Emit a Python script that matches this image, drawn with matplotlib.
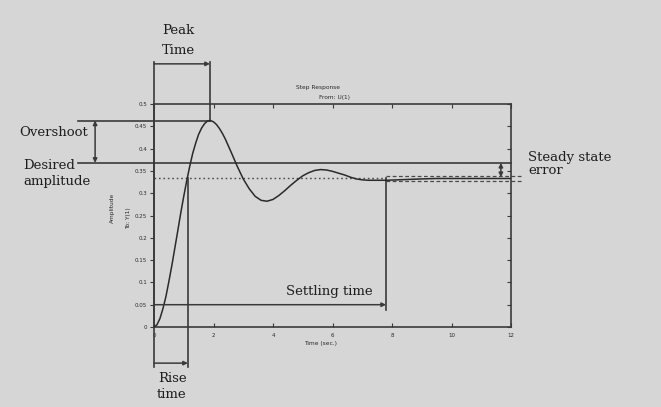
import matplotlib
matplotlib.use("Agg")
import matplotlib.pyplot as plt

# Step response samples (time in seconds, amplitude)
time = [0.0, 0.1, 0.2, 0.3, 0.4, 0.5, 0.6, 0.7, 0.8, 0.9, 1.0, 1.1, 1.2, 1.3,
        1.4, 1.5, 1.6, 1.7, 1.8, 1.9, 2.0, 2.1, 2.2, 2.3, 2.4, 2.6,
        2.8, 3.0, 3.2, 3.4, 3.6, 3.8, 4.0, 4.2, 4.4, 4.6, 4.8, 5.0, 5.2, 5.4,
        5.6, 5.8, 6.0, 6.2, 6.4, 6.6, 6.8, 7.0, 7.2, 7.4, 7.6, 7.8, 8.2, 8.6,
        9.0, 9.5, 10.0, 10.5, 11.0, 11.5, 12.0]
response = [0.0, 0.005, 0.019, 0.041, 0.068, 0.102, 0.138, 0.177, 0.216, 0.256,
            0.293, 0.328, 0.360, 0.389, 0.412, 0.432, 0.446, 0.456, 0.462,
            0.463, 0.460, 0.454, 0.445, 0.434, 0.421, 0.391, 0.360, 0.332,
            0.310, 0.293, 0.284, 0.282, 0.286, 0.295, 0.306, 0.318, 0.329,
            0.339, 0.346, 0.351, 0.353, 0.352, 0.349, 0.345, 0.341, 0.336,
            0.332, 0.330, 0.329, 0.329, 0.329, 0.329, 0.330, 0.331, 0.332,
            0.333, 0.333, 0.333, 0.333, 0.333, 0.333]

x_ticks = [0, 2, 4, 6, 8, 10, 12]
x_tick_labels = ["0", "2", "4", "6", "8", "10", "12"]
y_ticks = [0, 0.05, 0.1, 0.15, 0.2, 0.25, 0.3, 0.35, 0.4, 0.45, 0.5]
y_tick_labels = ["0", "0.05", "0.1", "0.15", "0.2", "0.25", "0.3", "0.35",
                 "0.4", "0.45", "0.5"]

# Characteristic values of the response
final_value = 0.333
desired_value = 0.368
peak_time = 1.88
peak_value = 0.463
rise_time = 1.14
settling_time = 7.8
settling_band = 0.006
settling_level = 0.05

BG = "#d6d6d6"
INK = "#2a2a2a"
LINE = "#3a3a3a"
W, H = 661, 407

fig = plt.figure(figsize=(W / 100, H / 100), dpi=100, facecolor=BG)
ax = fig.add_axes([154 / W, 80 / H, 357 / W, 223 / H], facecolor=BG)
ax.set_xlim(0, 12)
ax.set_ylim(0, 0.5)

for s in ax.spines.values():
    s.set_color(LINE)
    s.set_linewidth(1.2)

ax.set_xticks(x_ticks)
ax.set_xticklabels(x_tick_labels)
ax.set_yticks(y_ticks)
ax.set_yticklabels(y_tick_labels)
ax.tick_params(axis="x", direction="in", top=True, length=3, width=0.8,
               colors=LINE, labelsize=4, pad=4, labelcolor=INK)
ax.tick_params(axis="y", direction="out", length=3, width=0.8, colors=LINE,
               labelsize=4, pad=2, labelcolor=INK)
ax.tick_params(axis="y", which="both", right=True)
for t in ax.yaxis.get_ticklines()[1::2]:
    # right-side ticks point inward
    t.set_marker(matplotlib.lines.TICKLEFT)

# response curve
ax.plot(time, response, color=INK, lw=1.1, zorder=3)

kw = dict(color=LINE, lw=1.2, clip_on=False, zorder=2)

# final value (dotted) and settling band (dashed)
ax.plot([0, settling_time], [final_value, final_value], color="#4a4a4a",
        lw=1.0, ls=(0, (1.2, 2.0)), clip_on=False)
for lvl in (final_value + settling_band, final_value - settling_band):
    ax.plot([settling_time, 12.37], [lvl, lvl], color="#4a4a4a", lw=0.9,
            ls=(0, (3, 2)), clip_on=False)

# desired amplitude and overshoot levels
ax.plot([-2.55, 12], [desired_value, desired_value], **kw)
ax.plot([-2.55, peak_time], [peak_value, peak_value], **kw)

# peak time bracket
ax.plot([0, 0], [-0.09, 0.594], **kw)
ax.plot([peak_time, peak_time], [peak_value, 0.594], **kw)

# rise time bracket
ax.plot([rise_time, rise_time], [-0.09, final_value], **kw)

# settling time marker
ax.plot([settling_time, settling_time], [0.038, final_value], **kw)


def arrow(x0, y0, x1, y1, style="-|>"):
    ax.annotate("", xy=(x1, y1), xytext=(x0, y0), xycoords="data",
                annotation_clip=False,
                arrowprops=dict(arrowstyle=style, color=LINE, lw=1.1,
                                mutation_scale=6, shrinkA=0, shrinkB=0))


arrow(0, 0.590, peak_time, 0.590)
arrow(0, -0.081, rise_time, -0.081)
arrow(0, settling_level, settling_time, settling_level)
arrow(-1.98, desired_value, -1.98, peak_value, "<|-|>")
arrow(11.66, desired_value, 11.66, final_value + 0.003, "<|-|>")


def px(x, y):
    return x / W, 1 - y / H


serif = dict(family="DejaVu Serif", fontsize=9.5, color="#1e1e1e")
fig.text(*px(162, 30), "Peak", va="center", ha="left", **serif)
fig.text(*px(162, 50), "Time", va="center", ha="left", **serif)
fig.text(*px(19, 133), "Overshoot", va="center", ha="left", **serif)
fig.text(*px(23, 165), "Desired", va="center", ha="left", **serif)
fig.text(*px(23, 182), "amplitude", va="center", ha="left", **serif)
fig.text(*px(528, 157), "Steady state", va="center", ha="left", **serif)
fig.text(*px(528, 170), "error", va="center", ha="left", **serif)
fig.text(*px(286, 291), "Settling time", va="center", ha="left", **serif)
fig.text(*px(158, 378), "Rise", va="center", ha="left", **serif)
fig.text(*px(157, 395), "time", va="center", ha="left", **serif)

small = dict(fontsize=4.2, color=INK)
fig.text(*px(318, 88), "Step Response", ha="center", va="center", **small)
fig.text(*px(334, 97), "From: U(1)", ha="center", va="center", **small)
fig.text(*px(321, 344), "Time (sec.)", ha="center", va="center", **small)
fig.text(*px(112, 208), "Amplitude", ha="center", va="center",
         rotation=90, **small)
fig.text(*px(129, 218), "To: Y(1)", ha="center", va="center",
         rotation=90, **small)

fig.savefig("out.png", dpi=100, facecolor=BG)
